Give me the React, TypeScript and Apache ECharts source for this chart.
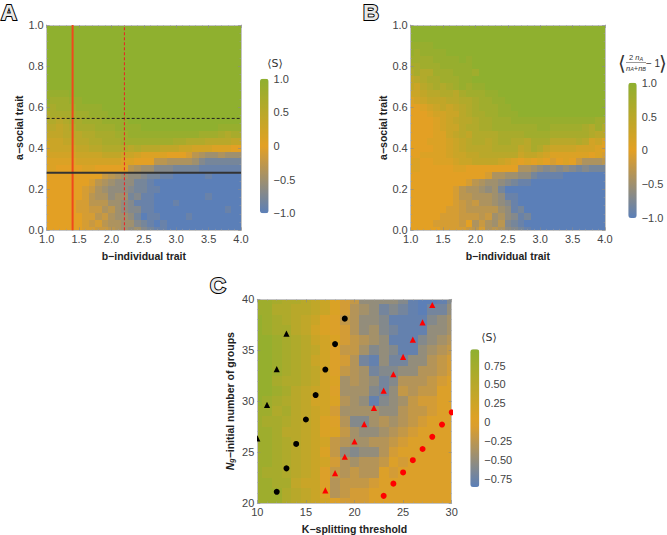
import React, { useEffect, useRef } from "react";
import * as echarts from "echarts";

// All heat values below are in tenths of the colour scale. Rows run from the lowest y upward.
const panelARows: number[][] = [
  [0,0,0,0,0,0,-1,-1,-2,-2,-3,-4,-5,-6,-5,-7,-8,-9,-9,-10,-10,-10,-10,-10,-10,-10,-10,-10,-10,-10,-10],
  [0,0,0,0,0,0,-1,-2,-1,-3,-4,-4,-5,-5,-7,-8,-9,-10,-9,-10,-10,-10,-10,-10,-10,-10,-10,-10,-10,-10,-10],
  [0,0,0,0,0,0,-1,-1,-3,-2,-4,-5,-5,-6,-8,-10,-9,-9,-10,-10,-10,-10,-9,-10,-10,-10,-10,-10,-10,-10,-10],
  [0,0,0,0,0,-1,-1,-2,-2,-4,-3,-5,-6,-7,-7,-9,-9,-10,-10,-10,-10,-10,-10,-10,-10,-10,-10,-10,-9,-10,-10],
  [0,0,0,0,0,-1,-1,-3,-3,-3,-5,-5,-6,-7,-9,-9,-9,-10,-10,-10,-9,-10,-10,-10,-10,-10,-10,-10,-10,-10,-10],
  [0,0,0,0,0,0,-1,-3,-4,-4,-6,-5,-5,-8,-7,-9,-9,-10,-10,-10,-10,-10,-10,-10,-10,-9,-10,-10,-10,-10,-10],
  [0,0,0,0,0,0,-1,-2,-4,-5,-6,-6,-6,-7,-8,-8,-9,-9,-10,-10,-10,-10,-10,-10,-10,-10,-10,-10,-10,-10,-10],
  [0,0,0,0,0,0,0,-1,-3,-4,-5,-6,-6,-6,-8,-8,-9,-10,-10,-10,-10,-10,-10,-10,-10,-10,-10,-10,-10,-10,-10],
  [0,0,0,0,0,0,0,0,0,-2,-3,-4,-5,-6,-6,-7,-8,-8,-9,-9,-10,-10,-10,-10,-10,-9,-10,-10,-10,-10,-10],
  [1,1,0,0,0,0,1,1,0,0,0,0,0,-3,-4,-5,-5,-7,-7,-7,-8,-8,-8,-8,-9,-9,-9,-9,-9,-9,-9],
  [1,1,1,1,1,2,2,2,2,2,2,2,1,1,0,0,0,-3,-3,-4,-4,-4,-4,-5,-7,-8,-8,-8,-8,-8,-8],
  [2,2,2,2,2,3,3,3,3,4,4,4,3,3,2,1,1,1,1,0,0,0,-1,-3,-4,-5,-5,-4,-5,-5,-5],
  [2,3,3,3,3,4,4,5,5,6,6,6,6,5,6,5,5,5,4,4,4,3,3,2,2,2,1,1,1,0,0],
  [3,3,3,4,4,5,5,6,6,7,7,7,8,8,8,8,8,8,8,8,7,7,6,6,6,5,5,5,5,4,4],
  [4,4,4,5,5,5,6,6,7,7,7,8,8,9,9,9,9,9,9,9,9,9,9,9,8,8,8,7,6,7,7],
  [5,5,4,5,6,7,7,7,8,8,8,9,9,9,9,10,10,10,10,10,10,10,10,10,10,10,10,9,9,9,9],
  [6,6,5,6,7,7,8,8,8,9,9,9,9,10,10,10,10,10,10,10,10,10,10,10,10,10,10,10,10,10,10],
  [6,7,7,7,7,8,8,9,9,9,10,10,10,10,10,10,10,10,10,10,10,10,10,10,10,10,10,10,10,10,10],
  [8,7,8,8,8,9,9,9,9,10,10,10,10,10,10,10,10,10,10,10,10,10,10,10,10,10,10,10,10,10,10],
  [9,8,8,8,9,9,10,10,10,10,10,10,10,10,10,10,10,10,10,10,10,10,10,10,10,10,10,10,10,10,10],
  [9,9,9,9,10,10,10,10,10,10,10,10,10,10,10,10,10,10,10,10,10,10,10,10,10,10,10,10,10,10,10],
  [10,10,10,10,10,10,10,10,10,10,10,10,10,10,10,10,10,10,10,10,10,10,10,10,10,10,10,10,10,10,10],
  [10,10,10,10,10,10,10,10,10,10,10,10,10,10,10,10,10,10,10,10,10,10,10,10,10,10,10,10,10,10,10],
  [10,10,10,10,10,10,10,10,10,10,10,10,10,10,10,10,10,10,10,10,10,10,10,10,10,10,10,10,10,10,10],
  [10,10,10,10,10,10,10,10,10,10,10,10,10,10,10,10,10,10,10,10,10,10,10,10,10,10,10,10,10,10,10],
  [10,10,10,10,10,10,10,10,10,10,10,10,10,10,10,10,10,10,10,10,10,10,10,10,10,10,10,10,10,10,10],
  [10,10,10,10,10,10,10,10,10,10,10,10,10,10,10,10,10,10,10,10,10,10,10,10,10,10,10,10,10,10,10],
  [10,10,10,10,10,10,10,10,10,10,10,10,10,10,10,10,10,10,10,10,10,10,10,10,10,10,10,10,10,10,10],
  [10,10,10,10,10,10,10,10,10,10,10,10,10,10,10,10,10,10,10,10,10,10,10,10,10,10,10,10,10,10,10],
  [10,10,10,10,10,10,10,10,10,10,10,10,10,10,10,10,10,10,10,10,10,10,10,10,10,10,10,10,10,10,10],
  [10,10,10,10,10,10,10,10,10,10,10,10,10,10,10,10,10,10,10,10,10,10,10,10,10,10,10,10,10,10,10],
];

const panelBRows: number[][] = [
  [0,0,0,0,0,-1,-1,-1,-1,-2,-3,-1,-4,-3,-4,-6,-7,-8,-9,-10,-10,-10,-10,-10,-10,-10,-10,-10,-10,-10,-10],
  [0,0,0,0,-1,-1,-1,-1,-2,0,-4,-2,-4,-5,-3,-7,-8,-9,-10,-10,-10,-10,-10,-10,-10,-10,-10,-10,-10,-10,-10],
  [0,0,0,0,0,-1,-1,-1,-2,-2,-2,-3,-2,-5,-4,-6,-7,-9,-8,-10,-10,-10,-10,-10,-10,-10,-10,-10,-10,-10,-10],
  [0,0,0,0,0,0,-1,-1,-2,-3,-3,-3,-3,-3,-5,-6,-9,-8,-10,-10,-10,-10,-10,-10,-10,-10,-10,-10,-10,-10,-10],
  [0,0,0,0,0,0,0,-1,-2,-3,-2,-4,-4,-5,-6,-7,-9,-10,-10,-10,-10,-10,-10,-10,-10,-10,-10,-10,-10,-10,-10],
  [0,0,0,0,0,0,0,-1,-3,-3,-4,-4,-4,-5,-6,-9,-9,-10,-10,-10,-10,-10,-10,-10,-10,-10,-10,-10,-10,-10,-10],
  [0,0,0,0,0,0,0,-1,-3,-4,-4,-5,-6,-5,-8,-10,-10,-10,-10,-10,-10,-10,-10,-10,-10,-10,-10,-10,-10,-10,-10],
  [0,0,0,0,0,0,0,0,0,-1,-3,-4,-5,-5,-6,-7,-8,-9,-9,-10,-10,-10,-10,-10,-10,-10,-10,-10,-10,-10,-10],
  [0,0,0,0,0,0,0,0,0,0,0,0,-1,-4,-4,-5,-5,-6,-6,-8,-9,-9,-9,-9,-10,-10,-10,-10,-10,-10,-10],
  [1,1,0,0,0,0,0,1,1,0,0,0,0,0,0,0,0,-4,-4,-5,-6,-7,-6,-7,-6,-7,-8,-7,-8,-8,-8],
  [1,1,0,0,1,1,1,2,3,3,4,4,4,4,3,2,1,0,1,0,1,0,-1,0,1,0,-2,-4,-4,-4,-3],
  [0,0,1,1,1,1,2,3,3,4,4,5,5,5,5,5,5,3,4,4,3,2,1,1,1,1,1,1,0,1,-1],
  [0,0,0,0,1,1,2,3,4,5,5,5,5,6,6,6,6,4,5,7,6,4,3,3,3,3,2,2,2,1,0],
  [0,0,0,1,1,1,2,3,4,5,6,6,5,6,7,7,6,6,5,7,7,7,5,5,5,5,6,5,2,3,1],
  [0,0,0,0,1,1,3,4,5,4,6,6,6,6,7,7,7,7,8,8,8,8,7,7,7,7,7,7,6,5,5],
  [0,0,0,0,1,2,3,3,5,6,6,7,7,8,8,8,8,8,8,8,9,9,8,8,8,8,8,7,6,8,6],
  [0,0,0,0,1,2,3,4,5,5,6,7,7,8,8,8,9,9,9,9,9,9,9,9,9,9,9,9,9,8,8],
  [0,0,0,1,2,2,3,3,5,6,7,7,8,8,9,9,9,10,10,10,10,10,10,10,10,10,10,10,10,10,10],
  [0,0,1,2,3,4,3,4,5,6,7,8,8,8,9,9,10,10,10,10,10,10,10,10,10,10,10,10,10,10,10],
  [1,2,3,4,4,4,5,5,6,6,7,8,8,9,9,10,10,10,10,10,10,10,10,10,10,10,10,10,10,10,10],
  [3,3,4,5,5,6,6,5,7,8,8,8,9,9,10,10,10,10,10,10,10,10,10,10,10,10,10,10,10,10,10],
  [4,3,5,6,7,6,7,8,9,8,9,9,10,10,10,10,10,10,10,10,10,10,10,10,10,10,10,10,10,10,10],
  [4,5,6,7,7,8,8,8,9,9,10,10,10,10,10,10,10,10,10,10,10,10,10,10,10,10,10,10,10,10,10],
  [6,7,6,6,8,8,8,9,9,9,8,10,10,10,10,10,10,10,10,10,10,10,10,10,10,10,10,10,10,10,10],
  [7,7,8,8,8,9,9,9,9,9,10,10,10,10,10,10,10,10,10,10,10,10,10,10,10,10,10,10,10,10,10],
  [8,8,8,8,9,9,9,9,10,9,10,10,10,10,10,10,10,10,10,10,10,10,10,10,10,10,10,10,10,10,10],
  [9,8,9,9,9,9,10,10,10,10,10,10,10,10,10,10,10,10,10,10,10,10,10,10,10,10,10,10,10,10,10],
  [9,9,9,9,10,10,10,10,10,10,10,10,10,10,10,10,10,10,10,10,10,10,10,10,10,10,10,10,10,10,10],
  [10,10,10,10,10,10,10,10,10,10,10,10,10,10,10,10,10,10,10,10,10,10,10,10,10,10,10,10,10,10,10],
  [10,10,10,10,10,10,10,10,10,10,10,10,10,10,10,10,10,10,10,10,10,10,10,10,10,10,10,10,10,10,10],
  [10,10,10,10,10,10,10,10,10,10,10,10,10,10,10,10,10,10,10,10,10,10,10,10,10,10,10,10,10,10,10],
];

const panelCRows: number[][] = [
  [8,8,8,6,5,4,3,2,0,-1,-1,-1,0,0,0,0,0,0,0,0,0],
  [8,8,8,6,5,4,3,1,-3,-2,-1,-1,0,0,0,0,0,0,0,0,0],
  [8,8,7,7,4,3,3,0,-3,-2,-2,-2,-1,0,0,0,0,0,0,0,0],
  [8,7,7,6,5,4,3,0,-2,-3,-2,-3,-3,0,-1,0,0,0,0,0,0],
  [8,8,7,6,5,4,3,2,-1,-3,-4,-3,-3,-2,0,-1,0,0,0,0,0],
  [8,8,7,6,5,4,3,1,-2,-5,-6,-5,-5,-3,-1,0,0,0,0,0,0],
  [8,8,7,6,5,4,3,2,-2,-3,-4,-4,-3,-3,-2,-1,0,0,0,0,0],
  [8,8,7,5,5,4,3,1,1,-2,-4,-5,-5,-4,-3,-2,-1,0,0,0,0],
  [8,7,7,6,5,4,3,1,0,-3,-6,-6,-4,-3,-4,-3,-2,-1,0,0,0],
  [8,8,6,7,5,4,3,2,-1,-4,-4,-4,-4,-5,-5,-3,-2,-2,-1,0,0],
  [9,8,7,6,5,4,2,2,1,-3,-4,-5,-8,-6,-5,-4,-2,-1,-1,0,0],
  [9,9,8,7,5,4,3,2,0,-4,-4,-4,-6,-7,-5,-2,-3,-2,-2,0,0],
  [9,9,7,6,6,5,4,2,1,-4,-3,-4,-5,-7,-6,-3,-3,-3,-2,-1,0],
  [9,9,8,7,6,5,4,2,0,-2,-3,-4,-7,-6,-6,-5,-5,-3,-3,-2,-1],
  [9,9,8,7,6,5,3,2,0,-1,-3,-7,-8,-5,-7,-7,-5,-5,-3,-2,-1],
  [9,9,8,7,6,5,4,2,0,-2,-2,-4,-6,-5,-6,-8,-8,-5,-4,-3,-2],
  [9,9,8,7,6,5,3,2,1,-1,-2,-3,-4,-5,-8,-8,-8,-6,-5,-4,-3],
  [9,8,7,7,5,4,2,1,0,-1,-3,-5,-4,-6,-7,-8,-8,-8,-5,-5,-4],
  [9,8,7,6,5,4,3,1,0,-2,-3,-5,-5,-6,-8,-8,-8,-8,-6,-5,-4],
  [8,8,6,6,5,5,4,3,1,-1,-3,-4,-5,-7,-6,-7,-8,-8.5,-7,-7,-5],
  [8,8,7,6,6,5,4,3,1,-1,-2,-5,-5,-5,-5,-6,-8,-8.5,-8.5,-8,-6],
];

const blackTriangles: number[][] = [[10,26.3],[11,29.6],[12,33.1],[13,36.6]];
const blackCircles: number[][] = [[12,21.1],[13,23.4],[14,25.8],[15,28.2],[16,30.6],[17,33.1],[18,35.6],[19,38.1]];
const redTriangles: number[][] = [[17,21.2],[18,22.9],[19,24.5],[20,26],[21,27.7],[22,29.3],[23,31],[24,32.6],[25,34.3],[26,36],[27,37.7],[28,39.4]];
const redCircles: number[][] = [[23,20.7],[24,21.9],[25,23],[26,24.2],[27,25.3],[28,26.5],[29,27.7],[30,28.9]];

const lineRedSolid: number[][] = [[1.4,0],[1.4,1]];
const lineRedDashed: number[][] = [[2.2,0],[2.2,1]];
const lineBlackDashed: number[][] = [[1,0.545],[4,0.545]];
const lineBlackSolid: number[][] = [[1,0.28],[4,0.28]];

const colorBlue = [91, 127, 184];
const colorOrange = [227, 160, 36];
const colorGreen = [143, 176, 47];

const SANS = '"Liberation Sans", Arial, sans-serif';
const TICK_COLOR = "#444";
const TITLE_COLOR = "#222";

function colorAt(v: number): string {
  const [a, b, t] = v < 0 ? [colorBlue, colorOrange, v + 1] : [colorOrange, colorGreen, v];
  const c = a.map((ch, i) => Math.round(ch + (b[i] - ch) * t));
  return `rgb(${c[0]},${c[1]},${c[2]})`;
}

function toCells(rows: number[][], x0: number, dx: number, y0: number, dy: number): number[][] {
  const out: number[][] = [];
  rows.forEach((row, k) =>
    row.forEach((v, j) => out.push([x0 + j * dx, y0 + k * dy, v / 10]))
  );
  return out;
}

function cellSeries(axis: number, data: number[][], dx: number, dy: number) {
  return {
    type: "custom",
    xAxisIndex: axis,
    yAxisIndex: axis,
    data,
    encode: { x: 0, y: 1 },
    silent: true,
    renderItem: (params: any, api: any) => {
      const x = api.value(0);
      const y = api.value(1);
      const p0 = api.coord([x - dx / 2, y + dy / 2]);
      const p1 = api.coord([x + dx / 2, y - dy / 2]);
      const left = Math.round(p0[0]);
      const top = Math.round(p0[1]);
      const shape = echarts.graphic.clipRectByRect(
        { x: left, y: top, width: Math.round(p1[0]) - left, height: Math.round(p1[1]) - top },
        { x: params.coordSys.x, y: params.coordSys.y, width: params.coordSys.width, height: params.coordSys.height }
      );
      return shape ? { type: "rect", shape, style: { fill: api.visual("color") } } : null;
    },
  };
}

function lineSeries(data: number[][], color: string, width: number, dashed: boolean) {
  return {
    type: "line",
    xAxisIndex: 0,
    yAxisIndex: 0,
    data,
    symbol: "none",
    silent: true,
    z: 6,
    lineStyle: { color, width, type: dashed ? [3, 2] : "solid" },
  };
}

// Markers are a custom series so that those on the plot's edge are cut by it, as in the figure.
function markerSeries(data: number[][], kind: "triangle" | "circle", color: string, size: number) {
  return {
    type: "custom",
    xAxisIndex: 4,
    yAxisIndex: 4,
    data,
    encode: { x: 0, y: 1 },
    clip: true,
    silent: true,
    z: 6,
    renderItem: (_params: any, api: any) => {
      const p = api.coord([api.value(0), api.value(1)]);
      const h = size / 2;
      return kind === "circle"
        ? { type: "circle", shape: { cx: p[0], cy: p[1], r: h }, style: { fill: color } }
        : {
            type: "polygon",
            shape: { points: [[p[0], p[1] - h - 0.4], [p[0] + h, p[1] + h - 0.4], [p[0] - h, p[1] + h - 0.4]] },
            style: { fill: color },
          };
    },
  };
}

const frameAxis = (min: number, max: number, interval: number, position: string, grid: number, extra: any) => {
  const labelled = position === "bottom" || position === "left";
  return {
    type: "value",
    gridIndex: grid,
    position,
    min,
    max,
    interval,
    z: 5,
    splitLine: { show: false },
    axisLine: { show: true, onZero: false, lineStyle: { color: "#c4c4c4", width: 1 } },
    axisTick: { show: true, inside: true, length: 3, lineStyle: { color: "#8a8a8a", width: 0.6 } },
    minorTick: { show: true, splitNumber: 5, length: 1.5, lineStyle: { color: "#9a9a9a", width: 0.5 } },
    ...(labelled ? extra : {}),
    axisLabel: { show: labelled, margin: 3, color: TICK_COLOR, fontFamily: SANS, fontSize: 11, ...(labelled ? extra.axisLabel || {} : {}) },
  };
};

const nameStyle = { color: TITLE_COLOR, fontFamily: SANS, fontSize: 10.5, fontWeight: "bold" as const };
const oneDecimal = (v: number) => v.toFixed(1);

function barAxisY(grid: number, interval: number, fmt: (v: number) => string, min: number, max: number) {
  return {
    type: "value",
    gridIndex: grid,
    position: "right",
    min,
    max,
    interval,
    splitLine: { show: false },
    axisLine: { show: false },
    axisTick: { show: false },
    axisLabel: { margin: 5, color: TICK_COLOR, fontFamily: SANS, fontSize: 11, formatter: fmt },
  };
}
const barAxisX = (grid: number) => ({ type: "value", gridIndex: grid, show: false, min: 0, max: 1 });
const fmtBar1 = (v: number) => (v === 0 ? "0" : (v < 0 ? "\u2212" : "") + Math.abs(v).toFixed(1));
const fmtBar2 = (v: number) =>
  Math.abs(v) === 1 ? "" : v === 0 ? "0" : (v < 0 ? "\u2212" : "") + Math.abs(v).toFixed(2);

const MIN_C = -0.856;
const MAX_C = 0.97;
// Panel C's scale runs blue at its own minimum, orange at zero and green at its own maximum.
const barCStops = [0, 1, 2, 3, 4, 5, 6, 7, 8, 9, 10, 11, 12, 13, 14, 15, 16].map((i) => {
  const v = MIN_C + ((MAX_C - MIN_C) * i) / 16;
  return colorAt(v < 0 ? v / -MIN_C : v / MAX_C);
});

const letter = (text: string, x: number, y: number) => ({
  type: "text",
  x,
  y,
  silent: true,
  style: {
    text,
    fill: "#e8e8e8",
    stroke: "#000000",
    lineWidth: 2,
    font: `bold 22px ${SANS}`,
    textAlign: "left",
    textVerticalAlign: "top",
  },
});

const label = (text: string, x: number, y: number, font: string, fill = "#333") => ({
  type: "text",
  x,
  y,
  silent: true,
  style: { text, fill, font, textAlign: "center", textVerticalAlign: "middle" },
});

export default function App() {
  const ref = useRef<HTMLDivElement>(null);
  useEffect(() => {
    document.body.style.margin = "0";
    const chart = echarts.init(ref.current!, null, { renderer: "svg" });
    chart.setOption({
      animation: false,
      backgroundColor: "#ffffff",
      grid: [
        { left: 46.7, top: 25, width: 194.3, height: 205.3 },
        { left: 410.7, top: 25, width: 194.3, height: 205.3 },
        { left: 257.3, top: 299.3, width: 194.4, height: 204.7 },
        { left: 260, top: 78.7, width: 8.6, height: 134.6 },
        { left: 628.3, top: 82.7, width: 8.4, height: 135.3 },
        { left: 470.3, top: 346.7, width: 9, height: 150.7 },
      ],
      xAxis: [
        frameAxis(1, 4, 0.5, "bottom", 0, { name: "b\u2212individual trait", nameLocation: "middle", nameGap: 20, nameTextStyle: nameStyle, axisLabel: { formatter: oneDecimal } }),
        frameAxis(1, 4, 0.5, "top", 0, {}),
        frameAxis(1, 4, 0.5, "bottom", 1, { name: "b\u2212individual trait", nameLocation: "middle", nameGap: 20, nameTextStyle: nameStyle, axisLabel: { formatter: oneDecimal } }),
        frameAxis(1, 4, 0.5, "top", 1, {}),
        frameAxis(10, 30, 5, "bottom", 2, { name: "K\u2212splitting threshold", nameLocation: "middle", nameGap: 20, nameTextStyle: nameStyle }),
        frameAxis(10, 30, 5, "top", 2, {}),
        barAxisX(3),
        barAxisX(4),
        barAxisX(5),
      ],
      yAxis: [
        frameAxis(0, 1, 0.2, "left", 0, { name: "a\u2212social trait", nameLocation: "middle", nameGap: 22, nameTextStyle: nameStyle, axisLabel: { formatter: oneDecimal } }),
        frameAxis(0, 1, 0.2, "right", 0, {}),
        frameAxis(0, 1, 0.2, "left", 1, { name: "a\u2212social trait", nameLocation: "middle", nameGap: 22, nameTextStyle: nameStyle, axisLabel: { formatter: oneDecimal } }),
        frameAxis(0, 1, 0.2, "right", 1, {}),
        frameAxis(20, 40, 5, "left", 2, {
          name: "{i|N}{s|g}{b|\u2212initial number of groups}",
          nameLocation: "middle",
          nameGap: 22,
          nameTextStyle: {
            rich: {
              i: { ...nameStyle, fontStyle: "italic" },
              s: { ...nameStyle, fontStyle: "italic", fontSize: 7, verticalAlign: "bottom" },
              b: nameStyle,
            },
          },
        }),
        frameAxis(20, 40, 5, "right", 2, {}),
        barAxisY(3, 0.5, fmtBar1, -1, 1),
        barAxisY(4, 0.5, fmtBar1, -1, 1),
        barAxisY(5, 0.25, fmtBar2, -1, 1),
      ],
      visualMap: [
        { type: "continuous", seriesIndex: 0, dimension: 2, min: -1, max: 1, left: 260, top: 78.7, itemWidth: 8.6, itemHeight: 134.6, padding: 0, calculable: false, hoverLink: false, inRange: { color: [colorAt(-1), colorAt(0), colorAt(1)] } },
        { type: "continuous", seriesIndex: 5, dimension: 2, min: -1, max: 1, left: 628.3, top: 82.7, itemWidth: 8.4, itemHeight: 135.3, padding: 0, calculable: false, hoverLink: false, inRange: { color: [colorAt(-1), colorAt(0), colorAt(1)] } },
        { type: "continuous", seriesIndex: 6, dimension: 2, min: MIN_C, max: MAX_C, left: 470.3, top: 349.3, itemWidth: 9, itemHeight: 137.7, padding: 0, calculable: false, hoverLink: false, inRange: { color: barCStops } },
      ],
      series: [
        cellSeries(0, toCells(panelARows, 1, 0.1, 0, 1 / 30), 0.1, 1 / 30),
        lineSeries(lineRedSolid, "#f0491c", 2, false),
        lineSeries(lineRedDashed, "#ee1c25", 1, true),
        lineSeries(lineBlackDashed, "#222222", 1, true),
        lineSeries(lineBlackSolid, "#333333", 2, false),
        cellSeries(2, toCells(panelBRows, 1, 0.1, 0, 1 / 30), 0.1, 1 / 30),
        cellSeries(4, toCells(panelCRows, 10, 1, 20, 1), 1, 1),
        markerSeries(blackTriangles, "triangle", "#000000", 6.2),
        markerSeries(blackCircles, "circle", "#000000", 6),
        markerSeries(redTriangles, "triangle", "#ff0000", 6.2),
        markerSeries(redCircles, "circle", "#ff0000", 6),
      ],
      graphic: [
        letter("A", 1, 1),
        letter("B", 363, 1),
        letter("C", 210, 274),
        label("\u27e8S\u27e9", 275, 63, `11px "DejaVu Sans", sans-serif`),
        label("\u27e8S\u27e9", 489, 337, `11px "DejaVu Sans", sans-serif`),
        label("\u27e8", 622, 63, `20px "DejaVu Sans", sans-serif`),
        label("\u27e9", 663, 63, `20px "DejaVu Sans", sans-serif`),
        {
          type: "text",
          x: 636,
          y: 57.5,
          silent: true,
          style: {
            text: "{r|2 }{i|n}{s|A}",
            textAlign: "center",
            textVerticalAlign: "middle",
            rich: {
              r: { font: `7.5px ${SANS}`, fill: "#333" },
              i: { font: `italic 7.5px ${SANS}`, fill: "#333" },
              s: { font: `italic 5.5px ${SANS}`, fill: "#333", verticalAlign: "bottom" },
            },
          },
        },
        { type: "line", silent: true, shape: { x1: 626, y1: 62.5, x2: 646, y2: 62.5 }, style: { stroke: "#555", lineWidth: 0.6 } },
        {
          type: "text",
          x: 636,
          y: 68,
          silent: true,
          style: {
            text: "{i|n}{s|A}{r|+}{i|n}{s|B}",
            textAlign: "center",
            textVerticalAlign: "middle",
            rich: {
              r: { font: `7.5px ${SANS}`, fill: "#333" },
              i: { font: `italic 7.5px ${SANS}`, fill: "#333" },
              s: { font: `italic 5.5px ${SANS}`, fill: "#333", verticalAlign: "bottom" },
            },
          },
        },
        label("\u2212 1", 653, 63, `10px ${SANS}`),
      ],
    });
    return () => chart.dispose();
  }, []);
  return <div ref={ref} style={{ width: 667, height: 535 }} />;
}
